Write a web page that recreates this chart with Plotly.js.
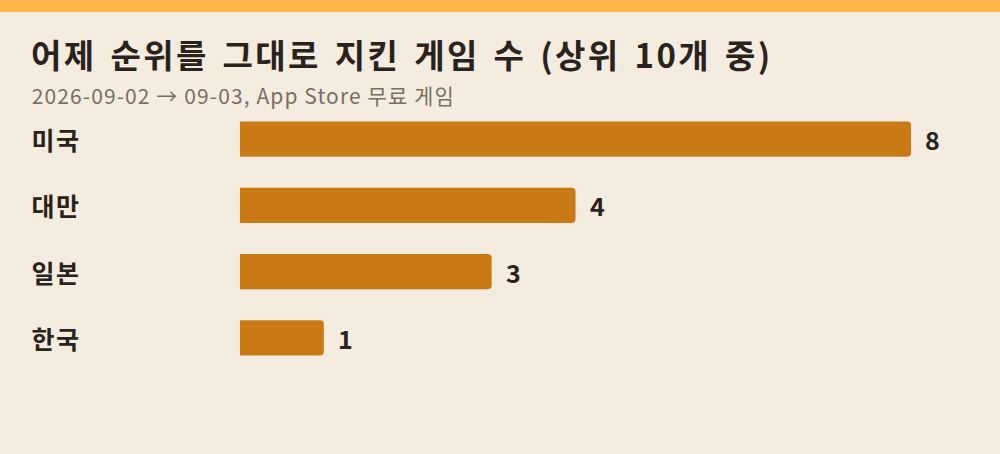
<!DOCTYPE html>
<html>
<head>
<meta charset="utf-8">
<script src="https://cdn.plot.ly/plotly-3.0.1.min.js"></script>
<style>
  html, body { margin: 0; padding: 0; background: #f5ece0; }
  #chart { width: 1000px; height: 454px; }
  /* the reference font sets Hangul a little wider than Noto CJK */
  #chart .gtitle { letter-spacing: 2.4px; word-spacing: 4px; }
</style>
</head>
<body>
<div id="chart"></div>
<script>
const countries = ['미국', '대만', '일본', '한국'];
const counts = [8, 4, 3, 1];
const titleText = '어제 순위를 그대로 지킨 게임 수 (상위 10개 중)';
const subtitleText = '2026-09-02 → 09-03, App Store 무료 게임';

const W = 1000, H = 454;
const margin = { l: 240, r: 47, t: 106, b: 83 };
const plotW = W - margin.l - margin.r;
const plotH = H - margin.t - margin.b;
// pixel -> paper helpers
const px = (x) => (x - margin.l) / plotW;
const py = (y) => 1 - (y - margin.t) / plotH;

const fontFamily = '"Noto Sans CJK KR", "Noto Sans", sans-serif';
const dark = '#2a231d';

const trace = {
  type: 'bar',
  orientation: 'h',
  y: countries,
  x: counts,
  marker: { color: '#c97a15', cornerradius: 4 },
  hoverinfo: 'none',
};

// annotation text is drawn middle-anchored, so letter-spacing grows both
// ways: place the labels by their centre
const annotations = [];
countries.forEach((c, i) => {
  annotations.push({
    xref: 'paper', yref: 'y', x: px(56), y: c,
    xanchor: 'center', yanchor: 'middle',
    text: '<b>' + c + '</b>', showarrow: false,
    font: { family: fontFamily, size: 25, color: dark },
  });
  annotations.push({
    xref: 'x', yref: 'y', x: counts[i], y: c,
    xanchor: 'left', yanchor: 'middle', xshift: 12,
    text: '<b>' + counts[i] + '</b>', showarrow: false,
    font: { family: fontFamily, size: 25, color: dark },
  });
});
annotations.push({
  xref: 'paper', yref: 'paper', x: px(243), y: py(95),
  xanchor: 'center', yanchor: 'middle',
  text: subtitleText, showarrow: false,
  font: { family: fontFamily, size: 21, color: '#7a6e64' },
});
const subtitleIndex = annotations.length - 1;

const layout = {
  width: W,
  height: H,
  margin: margin,
  paper_bgcolor: '#f5ece0',
  plot_bgcolor: '#f5ece0',
  showlegend: false,
  bargap: 0.47,
  title: {
    text: '<b>' + titleText + '</b>',
    x: 31 / W, xref: 'container', xanchor: 'left',
    y: 1 - 56 / H, yref: 'container', yanchor: 'middle',
    font: { family: fontFamily, size: 33, color: dark },
  },
  xaxis: {
    range: [0, 8.5],
    showgrid: false, zeroline: false, showticklabels: false, showline: false,
    fixedrange: true,
  },
  yaxis: {
    autorange: 'reversed',
    showgrid: false, zeroline: false, showticklabels: false, showline: false,
    fixedrange: true,
  },
  shapes: [{
    type: 'rect', xref: 'paper', yref: 'paper',
    x0: px(0), x1: px(W), y0: py(12), y1: py(0),
    fillcolor: '#ffb74d', line: { width: 0 }, layer: 'above',
  }],
  annotations: annotations,
};

Plotly.newPlot('chart', [trace], layout, { displayModeBar: false, staticPlot: true }).then(() => {
  document.querySelectorAll('#chart .annotation').forEach((g) => {
    const idx = Number(g.getAttribute('data-index'));
    const t = g.querySelector('text');
    if (!t) return;
    if (idx === subtitleIndex) t.style.letterSpacing = '1.1px';
    else if (idx % 2 === 0) t.style.letterSpacing = '1.5px';
  });
});
</script>
</body>
</html>
